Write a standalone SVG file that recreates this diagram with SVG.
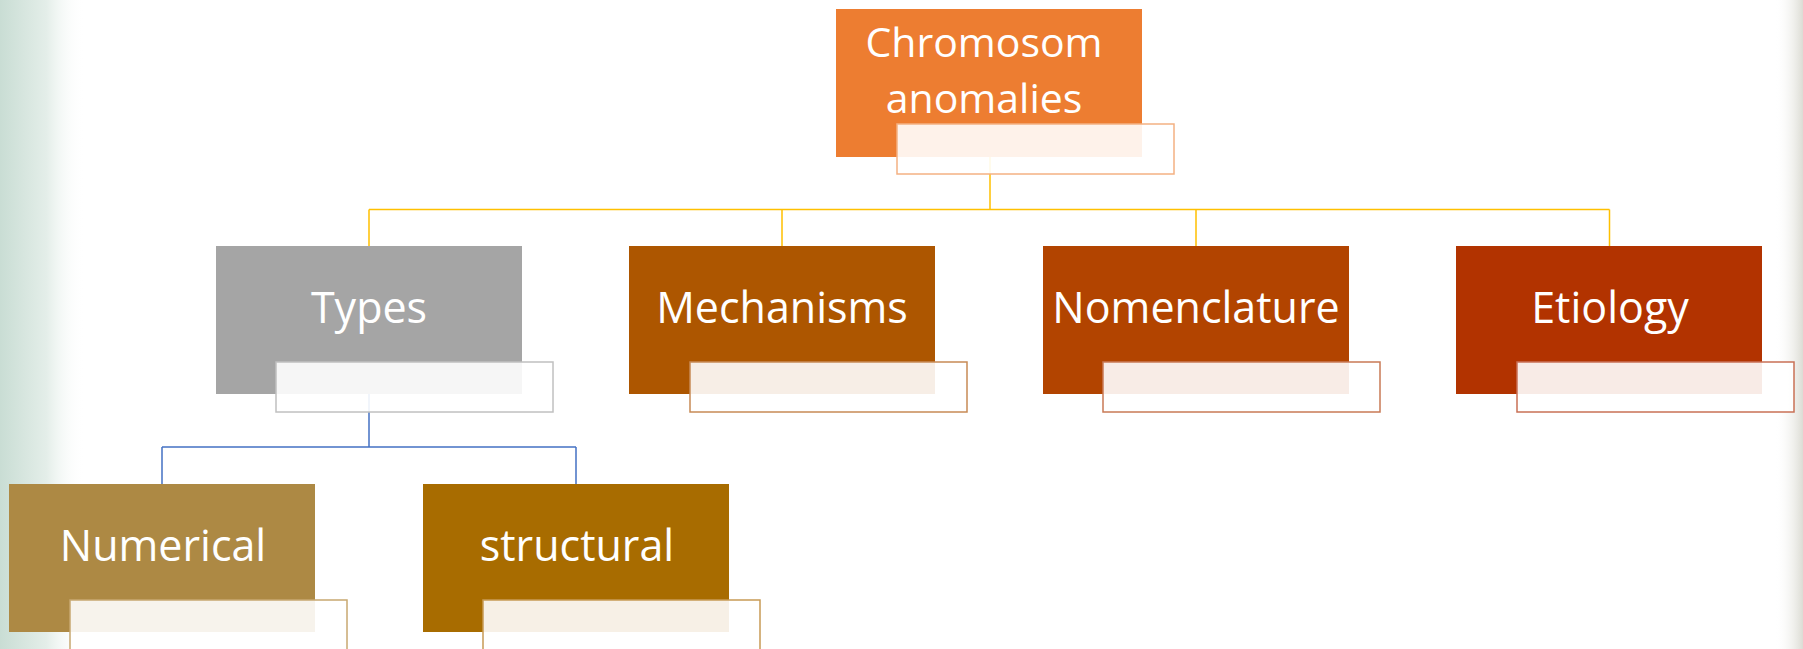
<svg xmlns="http://www.w3.org/2000/svg" width="1803" height="649" viewBox="0 0 1803 649">
<defs>
<linearGradient id="bgL" x1="0" y1="0" x2="1" y2="0">
<stop offset="0" stop-color="#c9ddd4"/>
<stop offset="0.55" stop-color="#e4eee9"/>
<stop offset="1" stop-color="#ffffff" stop-opacity="0"/>
</linearGradient>
<linearGradient id="bgR" x1="0" y1="0" x2="1" y2="0">
<stop offset="0" stop-color="#ffffff" stop-opacity="0"/>
<stop offset="1" stop-color="#dcdcd4"/>
</linearGradient>
<style>
.lbl{font-family:"Open Sans","Liberation Sans",sans-serif;font-size:43px;fill:#ffffff;text-anchor:middle}
.top{font-size:41px}
.sub{fill:#ffffff;fill-opacity:0.9;stroke-width:1.5}
.cy{fill:none;stroke:#ffc000;stroke-width:1.5}
.cb{fill:none;stroke:#4472c4;stroke-width:1.5}
</style>
</defs>
<rect x="0" y="0" width="1803" height="649" fill="#ffffff"/>
<rect x="0" y="0" width="85" height="649" fill="url(#bgL)"/>
<rect x="1775" y="0" width="28" height="649" fill="url(#bgR)"/>
<g id="connectors">
<path class="cy" d="M990 157 V209.5 M369 209.5 H1609.5 M369 209.5 V246 M782 209.5 V246 M1196 209.5 V246 M1609.5 209.5 V246"/>
<path class="cb" d="M369 394 V447 M162 447 H576 M162 447 V484 M576 447 V484"/>
</g>
<g id="node-top">
<rect x="836" y="9" width="306" height="148" fill="#ed7d31"/>
<rect class="sub" x="897" y="124" width="277" height="50" stroke="#f4b183"/>
<text class="lbl top" x="984" y="57">Chromosom</text>
<text class="lbl top" x="984" y="113">anomalies</text>
</g>
<g id="node-types">
<rect x="216" y="246" width="306" height="148" fill="#a5a5a5"/>
<rect class="sub" x="276" y="362" width="277" height="50" stroke="#c0c0c0"/>
<text class="lbl" x="369" y="323">Types</text>
</g>
<g id="node-mechanisms">
<rect x="629" y="246" width="306" height="148" fill="#ad5600"/>
<rect class="sub" x="690" y="362" width="277" height="50" stroke="#c78a55"/>
<text class="lbl" x="782" y="323">Mechanisms</text>
</g>
<g id="node-nomenclature">
<rect x="1043" y="246" width="306" height="148" fill="#b24400"/>
<rect class="sub" x="1103" y="362" width="277" height="50" stroke="#c97a55"/>
<text class="lbl" x="1196" y="323">Nomenclature</text>
</g>
<g id="node-etiology">
<rect x="1456" y="246" width="306" height="148" fill="#b23300"/>
<rect class="sub" x="1517" y="362" width="277" height="50" stroke="#c97055"/>
<text class="lbl" x="1610" y="323">Etiology</text>
</g>
<g id="node-numerical">
<rect x="9" y="484" width="306" height="148" fill="#ad8944"/>
<rect class="sub" x="70" y="600" width="277" height="50" stroke="#c8a870"/>
<text class="lbl" x="163" y="561">Numerical</text>
</g>
<g id="node-structural">
<rect x="423" y="484" width="306" height="148" fill="#a86c00"/>
<rect class="sub" x="483" y="600" width="277" height="50" stroke="#c89a55"/>
<text class="lbl" x="577" y="561">structural</text>
</g>
</svg>
